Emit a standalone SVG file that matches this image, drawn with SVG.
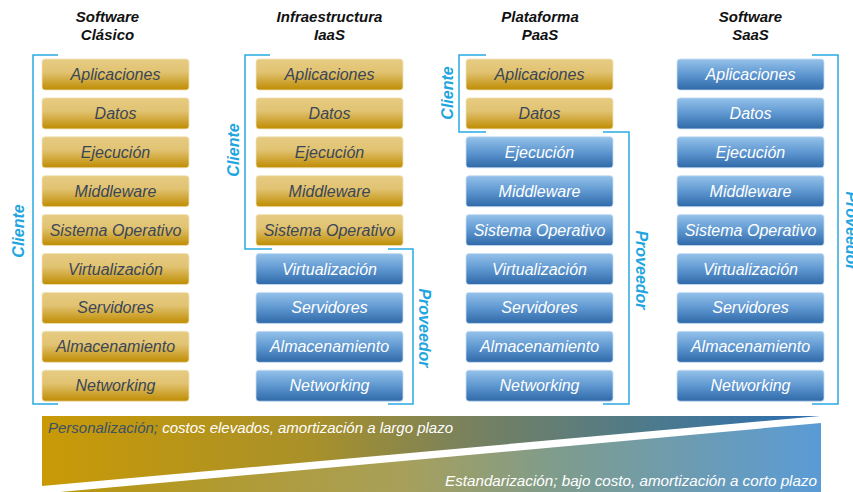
<svg xmlns="http://www.w3.org/2000/svg" width="853" height="492" viewBox="0 0 853 492">
<defs>
<linearGradient id="gold" x1="0" y1="0" x2="0" y2="1">
<stop offset="0" stop-color="#e6cb82"/>
<stop offset="0.42" stop-color="#e1c372"/>
<stop offset="1" stop-color="#bf8c02"/>
</linearGradient>
<linearGradient id="blue" x1="0" y1="0" x2="0" y2="1">
<stop offset="0" stop-color="#95c2ea"/>
<stop offset="0.5" stop-color="#5e97d0"/>
<stop offset="1" stop-color="#2f69a8"/>
</linearGradient>
<linearGradient id="upper" x1="42" y1="0" x2="820" y2="0" gradientUnits="userSpaceOnUse">
<stop offset="0" stop-color="#c99a06"/>
<stop offset="0.35" stop-color="#a8902a"/>
<stop offset="0.55" stop-color="#78815e"/>
<stop offset="0.78" stop-color="#4d7a8c"/>
<stop offset="1" stop-color="#2c6db2"/>
</linearGradient>
<linearGradient id="lower" x1="60" y1="0" x2="821" y2="0" gradientUnits="userSpaceOnUse">
<stop offset="0" stop-color="#b9950c"/>
<stop offset="0.45" stop-color="#a8a05a"/>
<stop offset="0.65" stop-color="#7f9c8c"/>
<stop offset="1" stop-color="#5a9bd6"/>
</linearGradient>
<style>
.g rect{fill:url(#gold);stroke:#f0e2b8;stroke-width:0.8}
.b rect{fill:url(#blue);stroke:#c8def2;stroke-width:0.8}
.g text,.b text{font-family:"Liberation Sans",Arial,sans-serif;font-style:italic;font-size:16px;text-anchor:middle}
.g text{fill:#3a4658}
.b text{fill:#ffffff}
.hdr{font-family:"Liberation Sans",Arial,sans-serif;font-style:italic;font-weight:bold;font-size:15px;text-anchor:middle;fill:#111}
.br{fill:none;stroke:#29abe2;stroke-width:1.5}
.lbl{font-family:"Liberation Sans",Arial,sans-serif;font-style:italic;font-weight:bold;font-size:16px;text-anchor:middle;fill:#1fa6e0}
.bt{font-family:"Liberation Sans",Arial,sans-serif;font-style:italic;font-size:14.5px;fill:#ffffff}
</style>
</defs>
<rect width="853" height="492" fill="#ffffff"/>

<g id="headers">
<text class="hdr" x="107.5" y="22">Software</text>
<text class="hdr" x="107.5" y="40">Clásico</text>
<text class="hdr" x="329.5" y="22">Infraestructura</text>
<text class="hdr" x="329.5" y="40">IaaS</text>
<text class="hdr" x="540" y="22">Plataforma</text>
<text class="hdr" x="540" y="40">PaaS</text>
<text class="hdr" x="750.5" y="22">Software</text>
<text class="hdr" x="750.5" y="40">SaaS</text>
</g>

<g id="col1">
<g id="c1-aplicaciones" class="g"><rect x="42" y="59" width="147" height="31" rx="3"/><text x="115.5" y="80">Aplicaciones</text></g>
<g id="c1-datos" class="g"><rect x="42" y="97.9" width="147" height="31" rx="3"/><text x="115.5" y="118.9">Datos</text></g>
<g id="c1-ejecucion" class="g"><rect x="42" y="136.8" width="147" height="31" rx="3"/><text x="115.5" y="157.8">Ejecución</text></g>
<g id="c1-middleware" class="g"><rect x="42" y="175.7" width="147" height="31" rx="3"/><text x="115.5" y="196.7">Middleware</text></g>
<g id="c1-so" class="g"><rect x="42" y="214.6" width="147" height="31" rx="3"/><text x="115.5" y="235.6">Sistema Operativo</text></g>
<g id="c1-virtualizacion" class="g"><rect x="42" y="253.5" width="147" height="31" rx="3"/><text x="115.5" y="274.5">Virtualización</text></g>
<g id="c1-servidores" class="g"><rect x="42" y="292.4" width="147" height="31" rx="3"/><text x="115.5" y="313.4">Servidores</text></g>
<g id="c1-almacenamiento" class="g"><rect x="42" y="331.3" width="147" height="31" rx="3"/><text x="115.5" y="352.3">Almacenamiento</text></g>
<g id="c1-networking" class="g"><rect x="42" y="370.2" width="147" height="31" rx="3"/><text x="115.5" y="391.2">Networking</text></g>
</g>

<g id="col2">
<g id="c2-aplicaciones" class="g"><rect x="256" y="59" width="147" height="31" rx="3"/><text x="329.5" y="80">Aplicaciones</text></g>
<g id="c2-datos" class="g"><rect x="256" y="97.9" width="147" height="31" rx="3"/><text x="329.5" y="118.9">Datos</text></g>
<g id="c2-ejecucion" class="g"><rect x="256" y="136.8" width="147" height="31" rx="3"/><text x="329.5" y="157.8">Ejecución</text></g>
<g id="c2-middleware" class="g"><rect x="256" y="175.7" width="147" height="31" rx="3"/><text x="329.5" y="196.7">Middleware</text></g>
<g id="c2-so" class="g"><rect x="256" y="214.6" width="147" height="31" rx="3"/><text x="329.5" y="235.6">Sistema Operativo</text></g>
<g id="c2-virtualizacion" class="b"><rect x="256" y="253.5" width="147" height="31" rx="3"/><text x="329.5" y="274.5">Virtualización</text></g>
<g id="c2-servidores" class="b"><rect x="256" y="292.4" width="147" height="31" rx="3"/><text x="329.5" y="313.4">Servidores</text></g>
<g id="c2-almacenamiento" class="b"><rect x="256" y="331.3" width="147" height="31" rx="3"/><text x="329.5" y="352.3">Almacenamiento</text></g>
<g id="c2-networking" class="b"><rect x="256" y="370.2" width="147" height="31" rx="3"/><text x="329.5" y="391.2">Networking</text></g>
</g>

<g id="col3">
<g id="c3-aplicaciones" class="g"><rect x="466" y="59" width="147" height="31" rx="3"/><text x="539.5" y="80">Aplicaciones</text></g>
<g id="c3-datos" class="g"><rect x="466" y="97.9" width="147" height="31" rx="3"/><text x="539.5" y="118.9">Datos</text></g>
<g id="c3-ejecucion" class="b"><rect x="466" y="136.8" width="147" height="31" rx="3"/><text x="539.5" y="157.8">Ejecución</text></g>
<g id="c3-middleware" class="b"><rect x="466" y="175.7" width="147" height="31" rx="3"/><text x="539.5" y="196.7">Middleware</text></g>
<g id="c3-so" class="b"><rect x="466" y="214.6" width="147" height="31" rx="3"/><text x="539.5" y="235.6">Sistema Operativo</text></g>
<g id="c3-virtualizacion" class="b"><rect x="466" y="253.5" width="147" height="31" rx="3"/><text x="539.5" y="274.5">Virtualización</text></g>
<g id="c3-servidores" class="b"><rect x="466" y="292.4" width="147" height="31" rx="3"/><text x="539.5" y="313.4">Servidores</text></g>
<g id="c3-almacenamiento" class="b"><rect x="466" y="331.3" width="147" height="31" rx="3"/><text x="539.5" y="352.3">Almacenamiento</text></g>
<g id="c3-networking" class="b"><rect x="466" y="370.2" width="147" height="31" rx="3"/><text x="539.5" y="391.2">Networking</text></g>
</g>

<g id="col4">
<g id="c4-aplicaciones" class="b"><rect x="677" y="59" width="147" height="31" rx="3"/><text x="750.5" y="80">Aplicaciones</text></g>
<g id="c4-datos" class="b"><rect x="677" y="97.9" width="147" height="31" rx="3"/><text x="750.5" y="118.9">Datos</text></g>
<g id="c4-ejecucion" class="b"><rect x="677" y="136.8" width="147" height="31" rx="3"/><text x="750.5" y="157.8">Ejecución</text></g>
<g id="c4-middleware" class="b"><rect x="677" y="175.7" width="147" height="31" rx="3"/><text x="750.5" y="196.7">Middleware</text></g>
<g id="c4-so" class="b"><rect x="677" y="214.6" width="147" height="31" rx="3"/><text x="750.5" y="235.6">Sistema Operativo</text></g>
<g id="c4-virtualizacion" class="b"><rect x="677" y="253.5" width="147" height="31" rx="3"/><text x="750.5" y="274.5">Virtualización</text></g>
<g id="c4-servidores" class="b"><rect x="677" y="292.4" width="147" height="31" rx="3"/><text x="750.5" y="313.4">Servidores</text></g>
<g id="c4-almacenamiento" class="b"><rect x="677" y="331.3" width="147" height="31" rx="3"/><text x="750.5" y="352.3">Almacenamiento</text></g>
<g id="c4-networking" class="b"><rect x="677" y="370.2" width="147" height="31" rx="3"/><text x="750.5" y="391.2">Networking</text></g>
</g>

<g id="brackets">
<path class="br" d="M58,55 H33 V404 H58"/>
<path class="br" d="M270,55 H245 V249 H272"/>
<path class="br" d="M388,249 H413 V404 H388"/>
<path class="br" d="M486,55 H459 V132 H486"/>
<path class="br" d="M603,132 H629 V404 H603"/>
<path class="br" d="M812,55 H838 V404 H812"/>
</g>

<g id="bracket-labels">
<text class="lbl" transform="translate(24,231) rotate(-90)">Cliente</text>
<text class="lbl" transform="translate(239,150) rotate(-90)">Cliente</text>
<text class="lbl" transform="translate(453,93) rotate(-90)">Cliente</text>
<text class="lbl" transform="translate(419,328) rotate(90)">Proveedor</text>
<text class="lbl" transform="translate(636,270) rotate(90)">Proveedor</text>
<text class="lbl" transform="translate(846,231) rotate(90)">Proveedor</text>
</g>

<g id="scale">
<polygon points="42,416 820,416 42,486" fill="url(#upper)"/>
<polygon points="821,423 821,492 60,492" fill="url(#lower)"/>
<text class="bt" x="48" y="433" textLength="405" lengthAdjust="spacingAndGlyphs"><tspan fill="#3c5166">Personalización;</tspan> costos elevados, amortización a largo plazo</text>
<text class="bt" x="445" y="486" textLength="372" lengthAdjust="spacingAndGlyphs">Estandarización; bajo costo, amortización a corto plazo</text>
</g>
</svg>
